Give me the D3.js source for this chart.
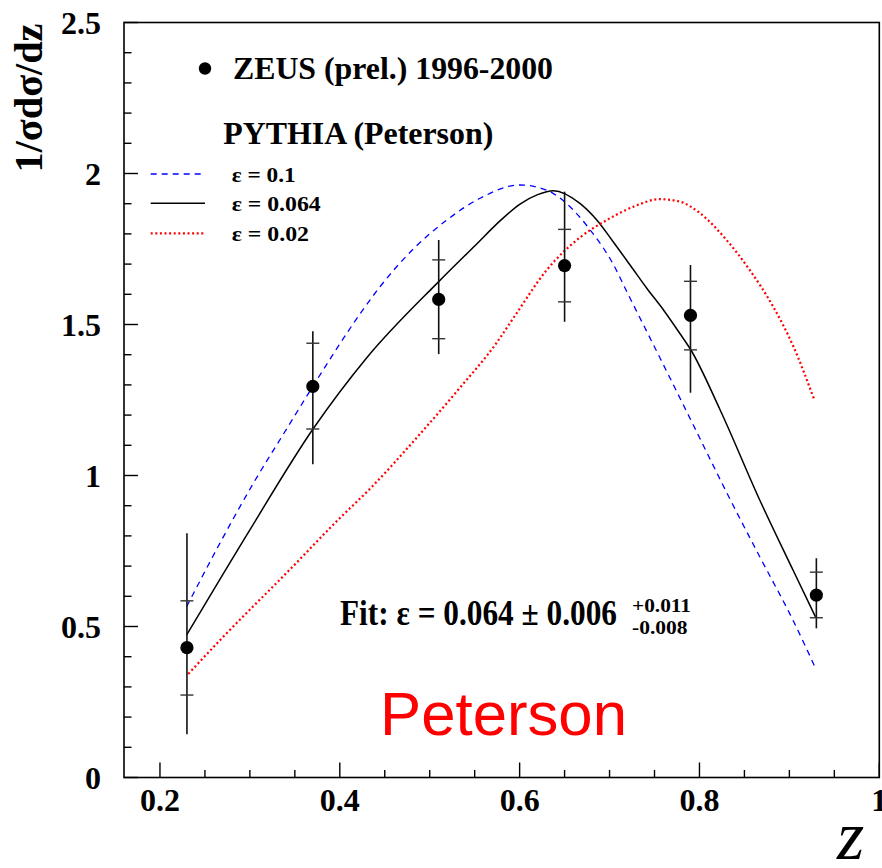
<!DOCTYPE html>
<html>
<head>
<meta charset="utf-8">
<script src="https://cdn.jsdelivr.net/npm/d3@7"></script>
<style>
  html, body { margin: 0; padding: 0; background: #fff; }
  svg { display: block; }
</style>
</head>
<body>
<svg id="chart" width="882" height="868"></svg>
<script>
// ---------------- data ----------------
const zPoints   = [0.23, 0.37, 0.51, 0.65, 0.79, 0.93];
const dataVals  = [0.430, 1.295, 1.583, 1.695, 1.530, 0.604];
const statLow   = [0.273, 1.154, 1.453, 1.575, 1.416, 0.529];
const statHigh  = [0.585, 1.438, 1.714, 1.815, 1.643, 0.680];
const totLow    = [0.143, 1.037, 1.402, 1.509, 1.274, 0.494];
const totHigh   = [0.809, 1.478, 1.780, 1.940, 1.697, 0.726];

// PYTHIA epsilon = 0.1 (blue dashed)
const eps01Z = [0.2297, 0.2667, 0.3038, 0.341, 0.370, 0.4225, 0.4447, 0.4818, 0.519, 0.556, 0.600, 0.630, 0.652, 0.678, 0.704, 0.719, 0.756, 0.793, 0.830, 0.867, 0.904, 0.930];
const eps01Y = [0.566, 0.776, 0.974, 1.155, 1.295, 1.535, 1.625, 1.750, 1.846, 1.918, 1.962, 1.945, 1.901, 1.815, 1.700, 1.610, 1.390, 1.168, 0.945, 0.731, 0.521, 0.356];
// PYTHIA epsilon = 0.064 (black solid)
const eps064Z = [0.2297, 0.300, 0.370, 0.430, 0.510, 0.550, 0.580, 0.600, 0.620, 0.6375, 0.667, 0.6858, 0.704, 0.7228, 0.7414, 0.760, 0.778, 0.790, 0.823, 0.867, 0.904, 0.929];
const eps064Y = [0.472, 0.820, 1.153, 1.390, 1.642, 1.760, 1.848, 1.898, 1.930, 1.943, 1.901, 1.846, 1.774, 1.697, 1.620, 1.548, 1.471, 1.418, 1.217, 0.919, 0.687, 0.532];
// PYTHIA epsilon = 0.02 (red dotted)
const eps002Z = [0.2315, 0.2704, 0.3446, 0.398, 0.4355, 0.4855, 0.530, 0.5745, 0.595, 0.630, 0.667, 0.697, 0.7265, 0.756, 0.778, 0.800, 0.830, 0.856, 0.882, 0.9045, 0.9275];
const eps002Y = [0.343, 0.466, 0.689, 0.853, 0.962, 1.125, 1.278, 1.440, 1.530, 1.680, 1.788, 1.846, 1.890, 1.915, 1.907, 1.870, 1.780, 1.680, 1.559, 1.427, 1.252];

const xMajorTicks = [0.2, 0.4, 0.6, 0.8, 1];
const xTickLabels = ["0.2", "0.4", "0.6", "0.8", "1"];
const yMajorTicks = [0, 0.5, 1, 1.5, 2, 2.5];
const yTickLabels = ["0", "0.5", "1", "1.5", "2", "2.5"];

const legendLabels = ["\u03B5 = 0.1", "\u03B5 = 0.064", "\u03B5 = 0.02"];

// ---------------- layout ----------------
const svg = d3.select("#chart");
const L = 124, R = 879.3, T = 22.5, B = 777.5;
const x = d3.scaleLinear().domain([0.16, 1.0]).range([L, R]);
const y = d3.scaleLinear().domain([0, 2.5]).range([B, T]);
const serif = "'Liberation Serif', 'Times New Roman', serif";

// frame
svg.append("rect").attr("x", L).attr("y", T).attr("width", R - L).attr("height", B - T)
  .attr("fill", "none").attr("stroke", "#000").attr("stroke-width", 1.6);

// x ticks (inside, pointing up)
const xMinor = d3.range(0, 17).map(i => +(0.2 + i * 0.05).toFixed(2)).filter(v => v <= 1.0001);
svg.append("g").selectAll("line").data(xMinor).join("line")
  .attr("x1", d => x(d)).attr("x2", d => x(d))
  .attr("y1", B).attr("y2", d => xMajorTicks.some(m => Math.abs(m - d) < 1e-6) ? B - 15 : B - 7.5)
  .attr("stroke", "#000").attr("stroke-width", 1.4);
// y ticks (inside, pointing right)
const yMinor = d3.range(0, 26).map(i => +(i * 0.1).toFixed(2));
svg.append("g").selectAll("line").data(yMinor).join("line")
  .attr("y1", d => y(d)).attr("y2", d => y(d))
  .attr("x1", L).attr("x2", d => yMajorTicks.some(m => Math.abs(m - d) < 1e-6) ? L + 14 : L + 7.5)
  .attr("stroke", "#000").attr("stroke-width", 1.4);

// tick labels
svg.append("g").selectAll("text").data(xMajorTicks).join("text")
  .attr("x", d => x(d)).attr("y", 811)
  .attr("text-anchor", "middle").attr("font-family", serif).attr("font-weight", "bold").attr("font-size", 32)
  .text((d, i) => xTickLabels[i]);
svg.append("g").selectAll("text").data(yMajorTicks).join("text")
  .attr("x", 101).attr("y", d => y(d) + 11)
  .attr("text-anchor", "end").attr("font-family", serif).attr("font-weight", "bold").attr("font-size", 32)
  .text((d, i) => yTickLabels[i]);

// axis titles
svg.append("text").attr("transform", `translate(42,${T + 1}) rotate(-90)`)
  .attr("text-anchor", "end").attr("font-family", serif).attr("font-weight", "bold").attr("font-size", 39)
  .attr("textLength", 149).attr("lengthAdjust", "spacingAndGlyphs")
  .text("1/\u03C3d\u03C3/dz");
svg.append("text").attr("x", 837).attr("y", 859)
  .attr("font-family", serif).attr("font-style", "italic").attr("font-size", 70)
  .text("z");

// curves
const line = d3.line().x(d => x(d[0])).y(d => y(d[1])).curve(d3.curveMonotoneX);
const curves = [
  { zs: eps01Z, ys: eps01Y, color: "#0000ff", dash: "6,5", w: 1.3 },
  { zs: eps064Z, ys: eps064Y, color: "#000000", dash: null, w: 1.5 },
  { zs: eps002Z, ys: eps002Y, color: "#ff0000", dash: "2,2.6", w: 2.2 }
];
curves.forEach(c => {
  svg.append("path").datum(c.zs.map((z, i) => [z, c.ys[i]]))
    .attr("d", line).attr("fill", "none").attr("stroke", c.color)
    .attr("stroke-width", c.w).attr("stroke-dasharray", c.dash);
});

// data points with error bars
const pts = zPoints.map((z, i) => ({ z, v: dataVals[i], sl: statLow[i], sh: statHigh[i], tl: totLow[i], th: totHigh[i] }));
const g = svg.append("g");
g.selectAll("line.tot").data(pts).join("line").attr("class", "tot")
  .attr("x1", d => x(d.z)).attr("x2", d => x(d.z)).attr("y1", d => y(d.tl)).attr("y2", d => y(d.th))
  .attr("stroke", "#111").attr("stroke-width", 1.6);
["sl", "sh"].forEach(k => {
  g.selectAll("line." + k).data(pts).join("line").attr("class", k)
    .attr("x1", d => x(d.z) - 6.5).attr("x2", d => x(d.z) + 6.5)
    .attr("y1", d => y(d[k])).attr("y2", d => y(d[k]))
    .attr("stroke", "#333").attr("stroke-width", 1.4);
});
g.selectAll("circle").data(pts).join("circle")
  .attr("cx", d => x(d.z)).attr("cy", d => y(d.v)).attr("r", 6.6).attr("fill", "#000");

// legend
svg.append("circle").attr("cx", 205).attr("cy", 68.5).attr("r", 6.2).attr("fill", "#000");
svg.append("text").attr("x", 233).attr("y", 79.3).attr("font-family", serif).attr("font-weight", "bold")
  .attr("font-size", 31.7).attr("textLength", 320).attr("lengthAdjust", "spacingAndGlyphs")
  .text("ZEUS (prel.) 1996-2000");
svg.append("text").attr("x", 223.3).attr("y", 144.3).attr("font-family", serif).attr("font-weight", "bold")
  .attr("font-size", 31.7).attr("textLength", 270).attr("lengthAdjust", "spacingAndGlyphs")
  .text("PYTHIA (Peterson)");
const legY = [174, 203.3, 233.3];
const legW = [64, 89, 77.3];
curves.forEach((c, i) => {
  svg.append("line").attr("x1", 150.7).attr("x2", 205).attr("y1", legY[i]).attr("y2", legY[i])
    .attr("stroke", c.color).attr("stroke-width", c.w).attr("stroke-dasharray", c.dash);
  svg.append("text").attr("x", 231.7).attr("y", legY[i] + 8).attr("font-family", serif).attr("font-weight", "bold")
    .attr("font-size", 21).attr("textLength", legW[i]).attr("lengthAdjust", "spacingAndGlyphs")
    .text(legendLabels[i]);
});

// fit result
svg.append("text").attr("x", 340).attr("y", 625).attr("font-family", serif).attr("font-weight", "bold")
  .attr("font-size", 36).attr("textLength", 277).attr("lengthAdjust", "spacingAndGlyphs")
  .text("Fit: \u03B5 = 0.064 \u00B1 0.006");
svg.append("text").attr("x", 632).attr("y", 611.7).attr("font-family", serif).attr("font-weight", "bold")
  .attr("font-size", 19).attr("textLength", 59).attr("lengthAdjust", "spacingAndGlyphs").text("+0.011");
svg.append("text").attr("x", 632).attr("y", 634).attr("font-family", serif).attr("font-weight", "bold")
  .attr("font-size", 19).attr("textLength", 55.6).attr("lengthAdjust", "spacingAndGlyphs").text("-0.008");

// big red label
svg.append("text").attr("x", 380).attr("y", 735).attr("font-family", "'Liberation Sans', Arial, sans-serif")
  .attr("font-size", 62).attr("fill", "#ff0000").attr("textLength", 247).attr("lengthAdjust", "spacingAndGlyphs")
  .text("Peterson");
</script>
</body>
</html>
